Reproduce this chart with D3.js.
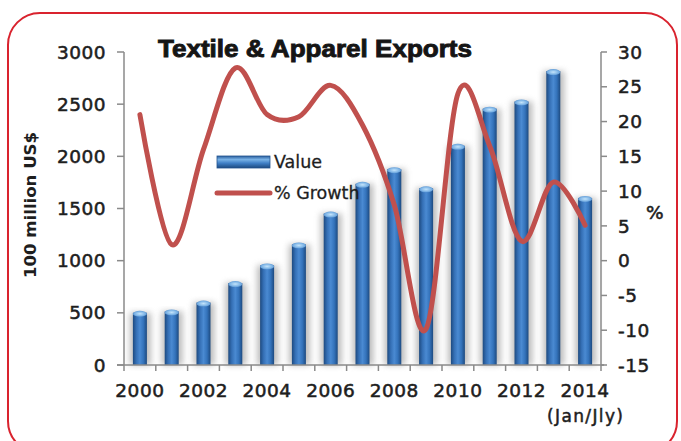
<!DOCTYPE html>
<html><head><meta charset="utf-8">
<script src="https://cdn.jsdelivr.net/npm/d3@7/dist/d3.min.js"></script>
<style>body{margin:0;background:#fff;}svg{display:block;}</style>
</head><body>
<svg id="c" width="681" height="441"></svg>
<script>
const years = ["2000","2001","2002","2003","2004","2005","2006","2007","2008","2009","2010","2011","2012","2013","2014"];
const values = [520, 533, 618, 805, 974, 1175, 1471, 1756, 1896, 1713, 2120, 2476, 2545, 2836, 1620];
const growth = [21, 2.3, 16, 27.7, 21, 20.7, 25.2, 19.5, 8, -9.8, 24, 16.5, 2.8, 11.3, 5.1];
const leftTicks = [0, 500, 1000, 1500, 2000, 2500, 3000];
const rightTicks = [-15, -10, -5, 0, 5, 10, 15, 20, 25, 30];
const xLabels = ["2000","2002","2004","2006","2008","2010","2012","2014"];

const svg = d3.select("#c");
const FONT = "DejaVu Sans, sans-serif";
const axisColor = "#8a8a8a";
const txt = "#1e1e1e";

const x = d3.scaleBand().domain(years).range([124, 601]).paddingInner(0).paddingOuter(0);
const yL = d3.scaleLinear().domain([0, 3000]).range([365, 52]);
const yR = d3.scaleLinear().domain([-15, 30]).range([365, 52]);

const defs = svg.append("defs");
const g1 = defs.append("linearGradient").attr("id","cyl").attr("x1","0").attr("x2","1").attr("y1","0").attr("y2","0");
[["0%","#1d4a80"],["25%","#3570b6"],["50%","#4a8ad2"],["75%","#3473bb"],["100%","#1d4a80"]].forEach(s=>g1.append("stop").attr("offset",s[0]).attr("stop-color",s[1]));
const g2 = defs.append("radialGradient").attr("id","cap").attr("cx","0.5").attr("cy","0.5").attr("r","0.6");
[["0%","#c4e4fb"],["60%","#7fb5e6"],["100%","#4c88c8"]].forEach(s=>g2.append("stop").attr("offset",s[0]).attr("stop-color",s[1]));
const g3 = defs.append("linearGradient").attr("id","leg").attr("x1","0").attr("x2","0").attr("y1","0").attr("y2","1");
[["0%","#2a5f9e"],["30%","#79b2e6"],["60%","#3f7fc6"],["100%","#1d4a80"]].forEach(s=>g3.append("stop").attr("offset",s[0]).attr("stop-color",s[1]));
const f = defs.append("filter").attr("id","sh").attr("x","-50%").attr("y","-10%").attr("width","200%").attr("height","120%");
f.append("feGaussianBlur").attr("stdDeviation","3");

// border
svg.append("rect").attr("x",8).attr("y",13).attr("width",669).attr("height",440).attr("rx",32).attr("ry",32)
  .attr("fill","none").attr("stroke","#d9232e").attr("stroke-width",2);

// bars
const bw = 14;
const bars = svg.append("g");
years.forEach((yr,i)=>{
  const cx = x(yr) + x.bandwidth()/2;
  const top = yL(values[i]);
  bars.append("rect").attr("x",cx-bw/2-3).attr("y",top+2).attr("width",bw+7).attr("height",yL(0)-top-2)
    .attr("fill","#8f8f8f").attr("opacity",0.6).attr("filter","url(#sh)");
});
years.forEach((yr,i)=>{
  const cx = x(yr) + x.bandwidth()/2;
  const top = yL(values[i]);
  bars.append("rect").attr("x",cx-bw/2).attr("y",top+2).attr("width",bw).attr("height",yL(0)-top-2).attr("fill","url(#cyl)");
  bars.append("ellipse").attr("cx",cx).attr("cy",top+3).attr("rx",bw/2).attr("ry",3).attr("fill","url(#cap)");
});

// axes
const ax = svg.append("g").attr("stroke",axisColor).attr("stroke-width",1.5).attr("fill","none");
ax.append("line").attr("x1",124).attr("x2",124).attr("y1",yL(3000)).attr("y2",yL(0));
ax.append("line").attr("x1",601).attr("x2",601).attr("y1",yR(30)).attr("y2",yR(-15));
ax.append("line").attr("x1",117).attr("x2",604).attr("y1",yL(0)).attr("y2",yL(0));
leftTicks.forEach(t=>ax.append("line").attr("x1",117).attr("x2",124).attr("y1",yL(t)).attr("y2",yL(t)));
rightTicks.forEach(t=>ax.append("line").attr("x1",601).attr("x2",607).attr("y1",yR(t)).attr("y2",yR(t)));
years.forEach(yr=>ax.append("line").attr("x1",x(yr)).attr("x2",x(yr)).attr("y1",yL(0)).attr("y2",yL(0)+6));
ax.append("line").attr("x1",x.range()[1]).attr("x2",x.range()[1]).attr("y1",yL(0)).attr("y2",yL(0)+6);

// tick labels (medium weight: regular + thin stroke)
const tl = svg.append("g").attr("font-family",FONT).attr("font-size",18.5).attr("fill",txt)
  .attr("stroke",txt).attr("stroke-width",0.55).attr("letter-spacing",0.5);
leftTicks.forEach(t=>tl.append("text").attr("x",106).attr("y",yL(t)).attr("dy","0.36em").attr("text-anchor","end").text(t));
rightTicks.forEach(t=>tl.append("text").attr("x",618).attr("y",yR(t)).attr("dy","0.36em").attr("text-anchor","start").text(t));
xLabels.forEach(t=>tl.append("text").attr("x",x(t)+x.bandwidth()/2).attr("y",397).attr("text-anchor","middle").text(t));
tl.append("text").attr("x",655).attr("y",212).attr("dy","0.36em").attr("text-anchor","middle").text("%");
svg.append("text").attr("x",585).attr("y",422).attr("text-anchor","middle").attr("font-family",FONT).attr("font-size",17).attr("fill",txt)
  .attr("stroke",txt).attr("stroke-width",0.5).attr("textLength",76).attr("lengthAdjust","spacing").text("(Jan/Jly)");
svg.append("text").attr("transform","translate(36,205) rotate(-90)").attr("text-anchor","middle").attr("font-family",FONT).attr("font-weight","bold").attr("font-size",16).attr("fill",txt).attr("textLength",146).attr("lengthAdjust","spacingAndGlyphs").text("100 million US$");

// title
svg.append("text").attr("x",158).attr("y",57).attr("font-family","Liberation Sans, Arial, sans-serif").attr("font-weight","bold").attr("font-size",23).attr("fill","#151515")
  .attr("stroke","#151515").attr("stroke-width",0.9)
  .attr("textLength",314).attr("lengthAdjust","spacingAndGlyphs").text("Textile & Apparel Exports");

// growth line
const line = d3.line().x((d,i)=>x(years[i])+x.bandwidth()/2).y(d=>yR(d)).curve(d3.curveCardinal.tension(0));
svg.append("path").datum(growth).attr("d",line).attr("fill","none").attr("stroke","#c0504d").attr("stroke-width",5).attr("stroke-linecap","round").attr("stroke-linejoin","round");

// legend
const lg = svg.append("g");
lg.append("rect").attr("x",217).attr("y",156).attr("width",53).attr("height",12).attr("fill","url(#leg)").attr("stroke","#24548e").attr("stroke-width",0.8);
lg.append("line").attr("x1",217).attr("x2",270).attr("y1",193).attr("y2",193).attr("stroke","#c0504d").attr("stroke-width",5).attr("stroke-linecap","round");
lg.append("text").attr("x",274).attr("y",162).attr("dy","0.36em").attr("font-family",FONT).attr("font-size",17.5).attr("fill",txt).attr("stroke",txt).attr("stroke-width",0.3).text("Value");
lg.append("text").attr("x",274).attr("y",193).attr("dy","0.36em").attr("font-family",FONT).attr("font-size",17.5).attr("fill",txt).attr("stroke",txt).attr("stroke-width",0.3).text("% Growth");
</script>
</body></html>
